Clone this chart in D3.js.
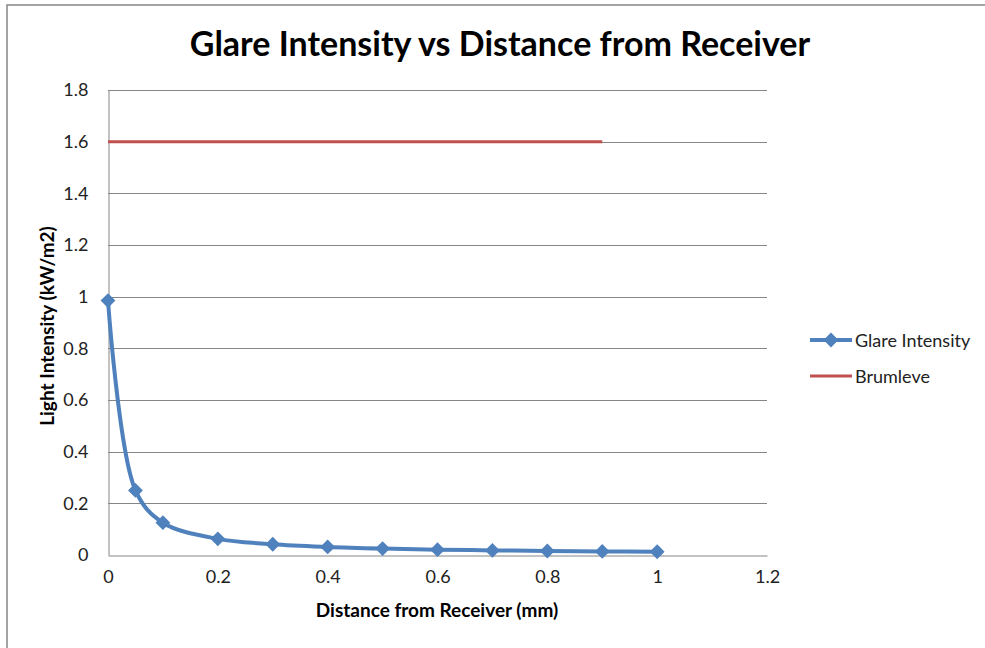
<!DOCTYPE html>
<html><head><meta charset="utf-8">
<script src="https://cdnjs.cloudflare.com/ajax/libs/d3/7.8.5/d3.min.js"></script>
<style>body{margin:0;background:#fff;} svg{display:block;font-family:Lato,"Open Sans",sans-serif;}</style>
</head><body>
<svg id="c" width="985" height="648"></svg>
<script>
const distance = [0, 0.05, 0.1, 0.2, 0.3, 0.4, 0.5, 0.6, 0.7, 0.8, 0.9, 1.0];
const glare = [0.985, 0.25, 0.125, 0.0625, 0.0417, 0.03125, 0.025, 0.0208, 0.0179, 0.0156, 0.0139, 0.0125];
const brumleveX = [0, 0.9];
const brumleveY = [1.6, 1.6];
const xTicks = [0, 0.2, 0.4, 0.6, 0.8, 1, 1.2];
const yTicks = [0, 0.2, 0.4, 0.6, 0.8, 1, 1.2, 1.4, 1.6, 1.8];
const seriesNames = ["Glare Intensity", "Brumleve"];
const colors = ["#4F81BD", "#C0504D"];

const svg = d3.select("#c");
svg.append("rect").attr("x",7).attr("y",5).attr("width",990).attr("height",660)
  .attr("fill","#fff").attr("stroke","#868686").attr("stroke-width",1.5);

const x = d3.scaleLinear().domain([0,1.2]).range([108,767]);
const y = d3.scaleLinear().domain([0,1.8]).range([555,90]);

// gridlines
svg.append("g").selectAll("line").data(yTicks.filter(d=>d>0)).join("line")
  .attr("x1",x(0)).attr("x2",x(1.2)).attr("y1",d=>Math.round(y(d))+0.5).attr("y2",d=>Math.round(y(d))+0.5)
  .attr("stroke","#868686").attr("stroke-width",1);

// axes
const yAxis = d3.axisLeft(y).tickValues(yTicks).tickFormat(d=>String(d)).tickSize(0).tickPadding(20);
const gy = svg.append("g").attr("transform",`translate(${x(0)+0.5},0)`).call(yAxis);
const xAxis = d3.axisBottom(x).tickValues(xTicks).tickFormat(d=>String(d)).tickSize(0).tickPadding(15);
const gx = svg.append("g").attr("transform",`translate(0,${Math.round(y(0))+0.5})`).call(xAxis);
[gx,gy].forEach(g=>{
  g.select(".domain").attr("stroke","#868686").attr("stroke-width",1);
  g.selectAll("text").attr("font-size",18).attr("fill","#222").attr("font-family","Lato, 'Open Sans', sans-serif");
});

// series
const glareData = distance.map((d,i)=>[d,glare[i]]);
svg.append("path").datum(glareData)
  .attr("d", d3.line().x(d=>x(d[0])).y(d=>y(d[1])).curve(d3.curveCatmullRom.alpha(0.5)))
  .attr("fill","none").attr("stroke",colors[0]).attr("stroke-width",4);
const diamond = d3.symbol().type(d3.symbolSquare).size(110)();
svg.append("g").selectAll("path").data(glareData).join("path")
  .attr("d",diamond).attr("transform",d=>`translate(${x(d[0])},${y(d[1])}) rotate(45)`)
  .attr("fill",colors[0]);

const brumData = brumleveX.map((d,i)=>[d,brumleveY[i]]);
svg.append("path").datum(brumData)
  .attr("d", d3.line().x(d=>x(d[0])).y(d=>y(d[1])))
  .attr("fill","none").attr("stroke",colors[1]).attr("stroke-width",3);

// title
svg.append("text").attr("x",500).attr("y",56).attr("text-anchor","middle")
  .attr("font-size",34).attr("font-weight","bold").attr("fill","#000")
  .text("Glare Intensity vs Distance from Receiver");
// axis titles
svg.append("text").attr("x",437).attr("y",617).attr("text-anchor","middle")
  .attr("font-size",19).attr("font-weight","bold").attr("fill","#000")
  .text("Distance from Receiver (mm)");
svg.append("text").attr("transform","translate(54,326) rotate(-90)").attr("text-anchor","middle")
  .attr("font-size",19).attr("font-weight","bold").attr("fill","#000")
  .text("Light Intensity (kW/m2)");

// legend
const leg = svg.append("g");
seriesNames.forEach((n,i)=>{
  const ly = 340 + i*36;
  leg.append("line").attr("x1",810).attr("x2",852).attr("y1",ly).attr("y2",ly)
    .attr("stroke",colors[i]).attr("stroke-width",i===0?4:3);
  if(i===0) leg.append("path").attr("d",diamond).attr("transform",`translate(831,${ly}) rotate(45)`).attr("fill",colors[i]);
  leg.append("text").attr("x",855).attr("y",ly+7).attr("font-size",18).attr("fill","#222").text(n);
});
</script>
</body></html>
